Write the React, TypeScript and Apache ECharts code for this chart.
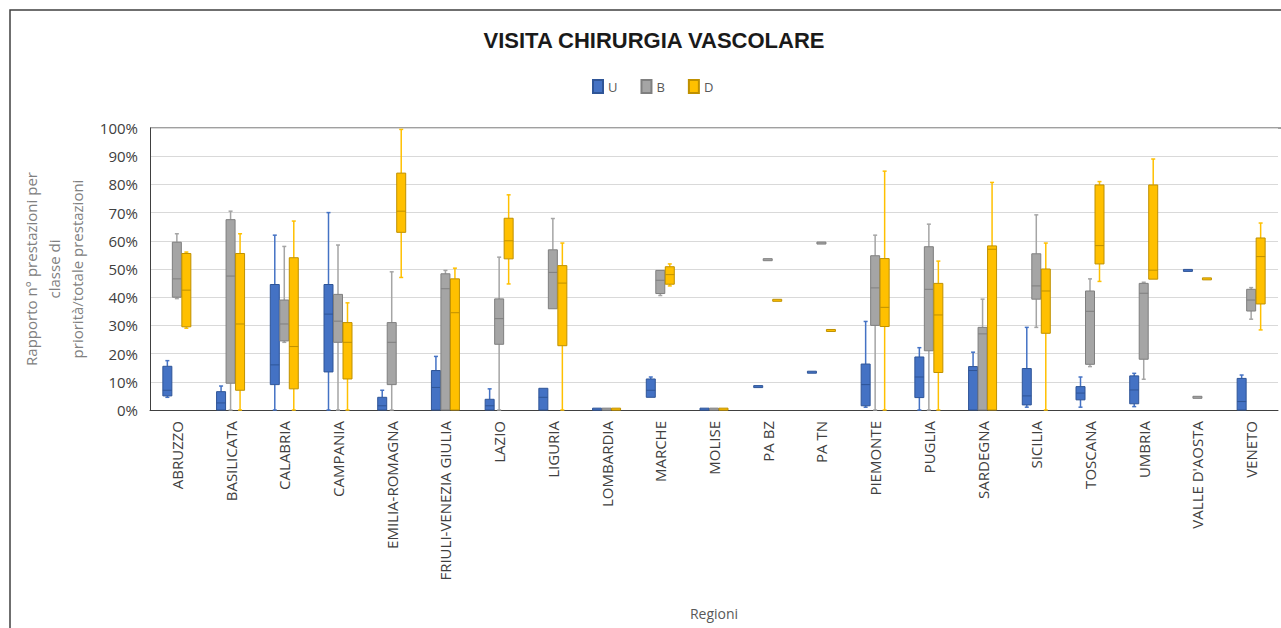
import React, { useEffect, useRef } from 'react';
import * as echarts from 'echarts';

// Categories (regions)
const regions = [
  'ABRUZZO', 'BASILICATA', 'CALABRIA', 'CAMPANIA', 'EMILIA-ROMAGNA',
  'FRIULI-VENEZIA GIULIA', 'LAZIO', 'LIGURIA', 'LOMBARDIA', 'MARCHE',
  'MOLISE', 'PA BZ', 'PA TN', 'PIEMONTE', 'PUGLIA', 'SARDEGNA', 'SICILIA',
  'TOSCANA', 'UMBRIA', "VALLE D'AOSTA", 'VENETO',
];

const seriesNames = ['U', 'B', 'D'];

// [min, Q1, median, Q3, max] in %
const uStats = [
  [4.5, 5, 7, 15.5, 17.5],
  [0, 0, 2.5, 6.5, 8.5],
  [0, 9, 16, 44.5, 62],
  [0, 13.5, 34, 44.5, 70],
  [0, 0, 1.5, 4.5, 7],
  [0, 0, 8, 14, 19],
  [0, 0, 1.5, 3.8, 7.5],
  [0, 0, 4.5, 7.7, 7.7],
  [0.3, 0.3, 0.3, 0.3, 0.3],
  [4.5, 4.5, 7, 11, 11.7],
  [0.3, 0.3, 0.3, 0.3, 0.3],
  [8.3, 8.3, 8.3, 8.3, 8.3],
  [13.4, 13.4, 13.4, 13.4, 13.4],
  [1, 1.5, 9, 16.3, 31.4],
  [0, 4.4, 11.7, 18.8, 22.1],
  [0, 0, 14, 15.4, 20.5],
  [1, 1.8, 5, 14.7, 29.3],
  [1, 3.6, 6, 8.3, 11.7],
  [1.2, 2.2, 7.1, 12.1, 13],
  [49.5, 49.5, 49.5, 49.5, 49.5],
  [0, 0, 3, 11.2, 12.4],
];

const bStats = [
  [39.5, 40, 46.5, 59.5, 62.5],
  [0, 9.5, 47.5, 67.5, 70.5],
  [24, 24.5, 30.5, 39, 58],
  [0, 24, 31.5, 41, 58.5],
  [0, 9, 24, 31, 49],
  [0, 0, 43, 48.3, 49.5],
  [0, 23.3, 32.4, 39.4, 54.2],
  [35.9, 35.9, 48.8, 56.8, 67.9],
  [0.3, 0.3, 0.3, 0.3, 0.3],
  [40.6, 41.3, 46, 49.5, 49.5],
  [0.3, 0.3, 0.3, 0.3, 0.3],
  [53.3, 53.3, 53.3, 53.3, 53.3],
  [59.2, 59.2, 59.2, 59.2, 59.2],
  [0, 30, 43.3, 54.7, 62],
  [0, 21, 42.8, 57.9, 65.9],
  [0, 0, 27, 29.3, 39.3],
  [29.3, 39.3, 44, 55.4, 69.2],
  [15.4, 16.2, 35, 42.2, 46.5],
  [10.9, 18, 41.4, 44.9, 45.3],
  [4.5, 4.5, 4.5, 4.5, 4.5],
  [32.2, 35.1, 39, 42.8, 43.4],
];

const dStats = [
  [29, 29.5, 42.5, 55.5, 56],
  [0, 7, 30.5, 55.5, 62.5],
  [0, 7.5, 22.5, 54, 67],
  [0, 11, 24, 31, 38],
  [47, 63, 70.5, 84, 99.5],
  [0, 0, 34.5, 46.5, 50.3],
  [44.7, 53.6, 60, 68, 76.3],
  [0, 22.8, 45, 51.2, 59.2],
  [0.3, 0.3, 0.3, 0.3, 0.3],
  [44, 44.6, 48, 50.8, 51.8],
  [0.3, 0.3, 0.3, 0.3, 0.3],
  [38.9, 38.9, 38.9, 38.9, 38.9],
  [28.2, 28.2, 28.2, 28.2, 28.2],
  [0, 29.6, 36.4, 53.7, 84.7],
  [0, 13.3, 33.7, 44.9, 52.8],
  [0, 0, 57, 58.2, 80.7],
  [0, 27.2, 42.2, 50, 59.2],
  [45.6, 51.8, 58.3, 79.8, 81],
  [46.4, 46.4, 49.6, 79.8, 89],
  [46.5, 46.5, 46.5, 46.5, 46.5],
  [28.4, 37.6, 54.4, 61, 66.3],
];

const allStats = [uStats, bStats, dStats];

const FILLS = ['#4472C4', '#A5A5A5', '#FFC000'];
const STROKES = ['#2F5597', '#7F7F7F', '#BF9000'];
const OFFSETS = [-9.5, 0, 9.5];
const BOX_W = 9;
const FONT = '"Open Sans", "Liberation Sans", sans-serif';

function makeRenderer(offset: number, fill: string, stroke: string) {
  return function (params: any, api: any) {
    const idx = api.value(0);
    const lo = api.value(1);
    const q1 = api.value(2);
    const med = api.value(3);
    const q3 = api.value(4);
    const hi = api.value(5);
    const x = api.coord([idx, 0])[0] + offset;
    const py = (v: number) => api.coord([idx, v])[1];
    const yLo = py(lo);
    const yQ1 = py(q1);
    const yMed = py(med);
    const yQ3 = py(q3);
    const yHi = py(hi);
    const half = BOX_W / 2;
    const children: any[] = [];
    const wStyle = { stroke: fill, lineWidth: 1.5 };
    if (yHi < yQ3 - 0.5) {
      children.push({ type: 'line', shape: { x1: x, y1: yQ3, x2: x, y2: yHi }, style: wStyle });
      children.push({ type: 'line', shape: { x1: x - 2, y1: yHi, x2: x + 2, y2: yHi }, style: wStyle });
    }
    if (yLo > yQ1 + 0.5) {
      children.push({ type: 'line', shape: { x1: x, y1: yQ1, x2: x, y2: yLo }, style: wStyle });
      children.push({ type: 'line', shape: { x1: x - 2, y1: yLo, x2: x + 2, y2: yLo }, style: wStyle });
    }
    let top = yQ3;
    let h = yQ1 - yQ3;
    if (h < 2) {
      top = (yQ1 + yQ3) / 2 - 1;
      h = 2;
    }
    children.push({
      type: 'rect',
      shape: { x: x - half, y: top, width: BOX_W, height: h },
      style: { fill, stroke, lineWidth: 1 },
    });
    if (h > 3) {
      children.push({
        type: 'line',
        shape: { x1: x - half, y1: yMed, x2: x + half, y2: yMed },
        style: { stroke, lineWidth: 1 },
      });
    }
    return { type: 'group', children };
  };
}

export default function App() {
  const ref = useRef<HTMLDivElement>(null);
  useEffect(() => {
    if (!ref.current) return;
    const chart = echarts.init(ref.current, null, { renderer: 'svg' });
    const series = seriesNames.map((name, s) => ({
      name,
      type: 'custom',
      clip: false,
      itemStyle: { color: FILLS[s], borderColor: STROKES[s], borderWidth: 1 },
      encode: { x: 0, y: [1, 2, 3, 4, 5] },
      data: allStats[s].map((st, i) => [i, ...st]),
      renderItem: makeRenderer(OFFSETS[s], FILLS[s], STROKES[s]),
    }));
    chart.setOption({
      animation: false,
      backgroundColor: '#ffffff',
      title: {
        text: 'VISITA CHIRURGIA VASCOLARE',
        left: 649,
        textAlign: 'center',
        top: 24,
        textStyle: { fontFamily: '"Liberation Sans", sans-serif', fontWeight: 'bold', fontSize: 22, color: '#1a1a1a' },
      },
      legend: {
        data: seriesNames,
        left: 587,
        top: 74,
        icon: 'rect',
        itemWidth: 10,
        itemHeight: 13,
        itemGap: 23,
        textStyle: { fontFamily: FONT, fontSize: 13, color: '#595959' },
      },
      grid: { left: 150, top: 128, width: 1128, height: 282 },
      xAxis: {
        type: 'category',
        data: regions,
        name: 'Regioni',
        nameLocation: 'middle',
        nameGap: 196,
        nameTextStyle: { fontFamily: FONT, fontSize: 14, color: '#595959' },
        axisLine: { lineStyle: { color: '#404040', width: 1 } },
        axisTick: { show: false },
        axisLabel: { rotate: 90, margin: 11, fontFamily: FONT, fontSize: 15, color: '#404040', interval: 0 },
      },
      yAxis: {
        type: 'value',
        min: 0,
        max: 100,
        interval: 10,
        name: 'Rapporto n° prestazioni per\nclasse di\npriorità/totale prestazioni',
        nameLocation: 'middle',
        nameRotate: 90,
        nameGap: 59,
        nameTextStyle: { fontFamily: FONT, fontSize: 15, color: '#808080', lineHeight: 23, align: 'center' },
        axisLine: { show: true, lineStyle: { color: '#404040', width: 1 } },
        axisTick: { show: false },
        axisLabel: { formatter: '{value}%', margin: 12, fontFamily: FONT, fontSize: 15, color: '#404040' },
        splitLine: { lineStyle: { color: '#d9d9d9', width: 1 } },
      },
      graphic: [
        {
          type: 'rect',
          silent: true,
          shape: { x: 10, y: 10, width: 1400, height: 800 },
          style: { fill: 'none', stroke: '#404040', lineWidth: 1.5 },
        },
        {
          type: 'line',
          silent: true,
          shape: { x1: 150, y1: 128, x2: 1281, y2: 128 },
          style: { stroke: '#404040', lineWidth: 1 },
        },
      ],
      series,
    });
    return () => chart.dispose();
  }, []);
  return (
    <div
      ref={ref}
      style={{ position: 'fixed', left: 0, top: 0, width: 1281, height: 628, background: '#fff' }}
    />
  );
}
